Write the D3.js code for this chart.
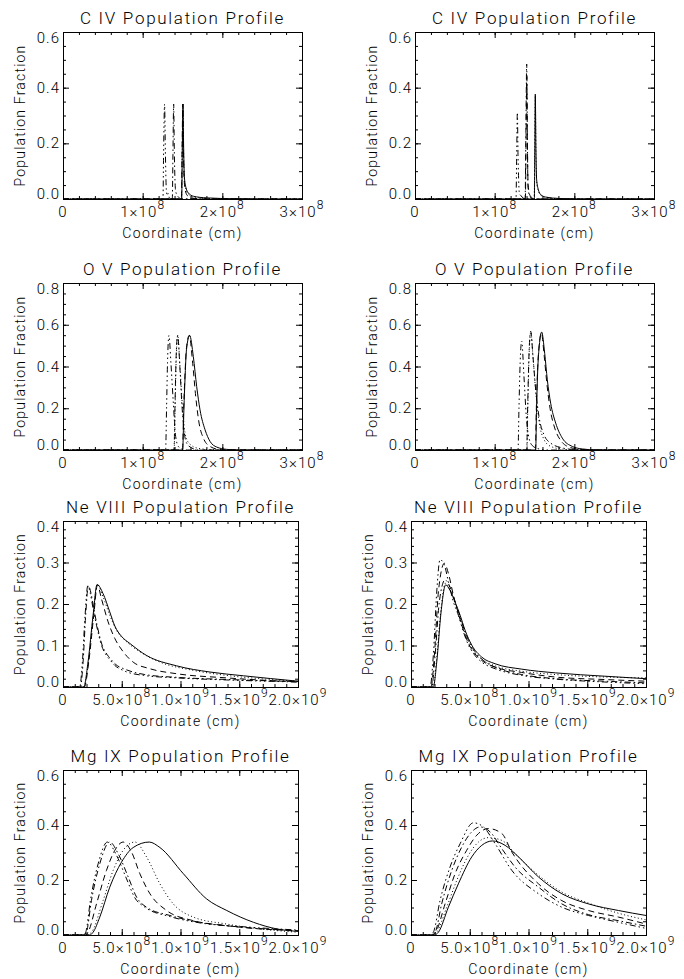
<!DOCTYPE html>
<html>
<head>
<meta charset="utf-8">
<script src="https://cdn.jsdelivr.net/npm/d3@7"></script>
<style>
  body { margin: 0; background: #fff; }
  svg text { font-family: "Roboto", "Liberation Sans", sans-serif; font-weight: 300; fill: #000; }
</style>
</head>
<body>
<svg id="chart"></svg>
<script>
// x values are in units of 1e8 cm, y is population fraction
// order of every curve list: solid, dotted, dashed, dash-dot, dash-dot-dot-dot

//// C IV, left
const civL_solid = [[0,0],[1.49,0],[1.497,0.16],[1.506,0.341],[1.514,0.19],[1.523,0.081],[1.544,0.04],[1.573,0.022],[1.636,0.01],[1.804,0.004],[2.14,0.001],[2.5,0],[3,0]];
const civL_dot = [[0,0],[1.488,0],[1.496,0.16],[1.505,0.341],[1.513,0.18],[1.523,0.075],[1.544,0.035],[1.573,0.018],[1.64,0.007],[1.8,0.002],[2.1,0],[3,0]];
const civL_dash = [[0,0],[1.486,0],[1.494,0.16],[1.504,0.341],[1.512,0.17],[1.523,0.06],[1.54,0.025],[1.57,0.01],[1.65,0.002],[1.8,0],[3,0]];
const civL_dashDot = [[0,0],[1.372,0],[1.38,0.16],[1.389,0.341],[1.398,0.16],[1.414,0.028],[1.448,0.007],[1.5,0],[3,0]];
const civL_dash3Dot = [[0,0],[1.255,0],[1.262,0.15],[1.275,0.341],[1.285,0.17],[1.297,0.034],[1.31,0.012],[1.32,0.02],[1.335,0.004],[1.36,0],[3,0]];

//// C IV, right
const civR_solid = [[0,0],[1.498,0],[1.504,0.18],[1.51,0.377],[1.518,0.18],[1.527,0.069],[1.548,0.034],[1.577,0.016],[1.64,0.007],[1.807,0.002],[2.1,0],[3,0]];
const civR_dot = [[0,0],[1.496,0],[1.503,0.17],[1.51,0.37],[1.518,0.16],[1.527,0.06],[1.548,0.03],[1.577,0.014],[1.64,0.006],[1.8,0.001],[2,0],[3,0]];
const civR_dash = [[0,0],[1.385,0],[1.394,0.2],[1.403,0.44],[1.411,0.2],[1.42,0.05],[1.445,0.012],[1.5,0],[3,0]];
const civR_dashDot = [[0,0],[1.382,0],[1.392,0.24],[1.402,0.485],[1.41,0.24],[1.418,0.046],[1.44,0.01],[1.48,0],[3,0]];
const civR_dash3Dot = [[0,0],[1.268,0],[1.276,0.15],[1.285,0.311],[1.293,0.16],[1.301,0.069],[1.31,0.02],[1.33,0.012],[1.36,0.003],[1.4,0],[3,0]];

//// O V, left
const ovL_solid = [[0,0],[1.502,0],[1.518,0.2],[1.531,0.336],[1.55,0.48],[1.59,0.549],[1.636,0.447],[1.678,0.304],[1.72,0.192],[1.783,0.097],[1.846,0.041],[1.93,0.014],[2.056,0.003],[2.2,0],[3,0]];
const ovL_dot = [[0,0],[1.395,0],[1.407,0.2],[1.42,0.42],[1.44,0.549],[1.47,0.39],[1.497,0.22],[1.525,0.1],[1.56,0.045],[1.62,0.02],[1.7,0.008],[1.85,0.002],[2,0],[3,0]];
const ovL_dash = [[0,0],[1.5,0],[1.515,0.2],[1.53,0.35],[1.55,0.49],[1.585,0.549],[1.628,0.415],[1.666,0.256],[1.708,0.129],[1.762,0.057],[1.846,0.017],[1.97,0.002],[2.1,0],[3,0]];
const ovL_dashDot = [[0,0],[1.393,0],[1.405,0.2],[1.418,0.42],[1.439,0.549],[1.469,0.383],[1.494,0.208],[1.523,0.081],[1.552,0.033],[1.615,0.01],[1.7,0],[3,0]];
const ovL_dash3Dot = [[0,0],[1.288,0],[1.3,0.2],[1.312,0.42],[1.33,0.549],[1.355,0.415],[1.385,0.224],[1.414,0.065],[1.448,0.017],[1.49,0.005],[1.56,0],[3,0]];

//// O V, right
const ovR_solid = [[0,0],[1.515,0],[1.525,0.18],[1.536,0.336],[1.56,0.5],[1.59,0.565],[1.628,0.463],[1.661,0.336],[1.703,0.224],[1.766,0.129],[1.849,0.057],[1.975,0.017],[2.1,0.005],[2.3,0],[3,0]];
const ovR_dot = [[0,0],[1.404,0],[1.417,0.22],[1.432,0.45],[1.454,0.565],[1.484,0.43],[1.52,0.26],[1.56,0.13],[1.62,0.05],[1.7,0.018],[1.85,0.004],[2,0],[3,0]];
const ovR_dash = [[0,0],[1.512,0],[1.522,0.18],[1.534,0.34],[1.558,0.5],[1.587,0.56],[1.622,0.45],[1.655,0.32],[1.695,0.2],[1.75,0.11],[1.83,0.045],[1.95,0.012],[2.1,0.002],[2.3,0],[3,0]];
const ovR_dashDot = [[0,0],[1.402,0],[1.415,0.22],[1.43,0.45],[1.452,0.569],[1.481,0.447],[1.515,0.288],[1.556,0.161],[1.619,0.073],[1.703,0.033],[1.849,0.01],[2,0.002],[2.2,0],[3,0]];
const ovR_dash3Dot = [[0,0],[1.293,0],[1.305,0.2],[1.32,0.42],[1.339,0.522],[1.368,0.351],[1.397,0.161],[1.431,0.057],[1.473,0.021],[1.556,0.005],[1.65,0],[3,0]];

//// Ne VIII, left
const neL_solid = [[0,0],[1.76,0],[2.13,0.06],[2.56,0.173],[2.9,0.247],[3.41,0.225],[3.98,0.181],[4.41,0.147],[4.98,0.122],[5.69,0.105],[7.11,0.076],[9.67,0.051],[12.52,0.036],[15.36,0.027],[20,0.014]];
const neL_dot = [[0,0],[1.79,0],[2.16,0.06],[2.59,0.173],[2.93,0.247],[3.41,0.217],[3.98,0.173],[4.55,0.137],[5.41,0.109],[6.54,0.085],[8.25,0.06],[11.1,0.04],[13.9,0.028],[16.8,0.02],[20,0.014]];
const neL_dash = [[0,0],[1.82,0],[2.19,0.06],[2.62,0.173],[2.93,0.246],[3.27,0.213],[3.84,0.157],[4.41,0.117],[5.12,0.085],[5.97,0.06],[7.4,0.044],[9.67,0.032],[13.9,0.022],[20,0.012]];
const neL_dashDot = [[0,0],[1.48,0],[1.71,0.06],[1.93,0.173],[2.16,0.244],[2.39,0.225],[2.62,0.189],[2.9,0.149],[3.33,0.101],[3.76,0.078],[4.04,0.068],[4.5,0.054],[5.26,0.043],[6.97,0.03],[9.81,0.023],[14.1,0.018],[20,0.013]];
const neL_dash3Dot = [[0,0],[1.42,0],[1.65,0.06],[1.88,0.173],[2.11,0.244],[2.33,0.225],[2.56,0.189],[2.85,0.149],[3.27,0.101],[3.7,0.076],[3.98,0.066],[4.41,0.052],[5.12,0.04],[6.83,0.028],[9.67,0.022],[13.9,0.017],[20,0.012]];

//// Ne VIII, right
const neR_solid = [[0,0],[1.9,0],[2.19,0.06],[2.56,0.181],[2.95,0.246],[3.32,0.233],[3.75,0.205],[4.18,0.173],[4.6,0.137],[5.17,0.101],[6.02,0.072],[7.16,0.056],[9.43,0.043],[12.3,0.034],[16.5,0.026],[20,0.02]];
const neR_dot = [[0,0],[1.88,0],[2.16,0.06],[2.53,0.181],[2.93,0.25],[3.3,0.235],[3.72,0.204],[4.15,0.169],[4.6,0.131],[5.17,0.094],[6.02,0.067],[7.16,0.051],[9.43,0.038],[12.3,0.03],[16.5,0.024],[20,0.022]];
const neR_dash = [[0,0],[1.7,0],[1.99,0.076],[2.33,0.229],[2.84,0.298],[3.18,0.274],[3.61,0.221],[4.03,0.177],[4.46,0.137],[4.89,0.105],[5.31,0.085],[6.02,0.064],[7.16,0.048],[9.43,0.035],[12.3,0.024],[16.5,0.018],[20,0.014]];
const neR_dashDot = [[0,0],[1.76,0],[2.05,0.076],[2.41,0.205],[2.9,0.258],[3.32,0.241],[3.75,0.205],[4.18,0.169],[4.6,0.133],[5.03,0.105],[5.45,0.085],[6.16,0.064],[7.3,0.046],[9.43,0.03],[12.3,0.02],[16.5,0.014],[20,0.01]];
const neR_dash3Dot = [[0,0],[1.62,0],[1.9,0.076],[2.19,0.229],[2.47,0.307],[2.84,0.294],[3.18,0.254],[3.61,0.205],[4.03,0.173],[4.46,0.133],[4.89,0.101],[5.31,0.081],[6.02,0.06],[7.16,0.044],[9.43,0.028],[12.3,0.019],[16.5,0.012],[20,0.008]];

//// Mg IX, left
const mgL_solid = [[0,0],[2.28,0],[2.56,0.01],[3.13,0.065],[3.98,0.174],[4.98,0.265],[5.97,0.318],[7.34,0.338],[8.25,0.318],[10.24,0.223],[12.23,0.131],[13.94,0.089],[16.22,0.046],[18.21,0.022],[20,0.013]];
const mgL_dot = [[0,0],[1.99,0],[2.42,0.01],[3.41,0.125],[4.27,0.235],[5.12,0.308],[6.12,0.338],[7.11,0.284],[8.25,0.186],[9.39,0.113],[11.1,0.065],[13.9,0.04],[16.8,0.022],[20,0.01]];
const mgL_dash = [[0,0],[1.93,0],[2.13,0.01],[2.85,0.113],[3.7,0.235],[4.41,0.308],[5.12,0.338],[5.83,0.302],[6.54,0.223],[7.4,0.15],[8.82,0.089],[11.1,0.052],[13.9,0.034],[16.8,0.022],[20,0.016]];
const mgL_dashDot = [[0,0],[1.76,0],[1.99,0.01],[2.42,0.125],[3.13,0.259],[3.98,0.338],[4.69,0.296],[5.55,0.211],[6.26,0.138],[7.11,0.101],[9.1,0.071],[11.66,0.046],[15.36,0.028],[20,0.016]];
const mgL_dash3Dot = [[0,0],[1.71,0],[1.93,0.01],[2.33,0.125],[2.99,0.259],[3.78,0.338],[4.55,0.29],[5.41,0.204],[6.12,0.135],[6.97,0.101],[9.1,0.067],[11.66,0.044],[15.36,0.03],[20,0.018]];

//// Mg IX, right
const mgR_solid = [[0,0],[1.99,0],[2.33,0.01],[3.18,0.101],[4.03,0.186],[5.17,0.284],[6.02,0.326],[6.93,0.342],[8.01,0.326],[9.15,0.284],[10.85,0.211],[12.84,0.15],[15.11,0.113],[17.67,0.089],[20,0.071]];
const mgR_dot = [[0,0],[1.9,0],[2.19,0.01],[3.04,0.101],[3.89,0.198],[4.89,0.29],[5.74,0.338],[6.59,0.354],[7.73,0.344],[8.86,0.296],[10.85,0.217],[12.84,0.156],[15.11,0.116],[17.67,0.079],[20,0.055]];
const mgR_dash = [[0,0],[1.82,0],[2.1,0.01],[2.9,0.113],[3.75,0.223],[4.74,0.308],[5.6,0.363],[6.59,0.387],[7.73,0.369],[8.58,0.302],[10.85,0.186],[12.84,0.125],[15.11,0.089],[17.67,0.065],[20,0.04]];
const mgR_dashDot = [[0,0],[1.7,0],[2.05,0.01],[2.61,0.113],[3.47,0.235],[4.32,0.32],[5.17,0.375],[5.88,0.393],[6.73,0.375],[7.73,0.314],[8.86,0.247],[10.85,0.174],[12.84,0.113],[15.11,0.074],[17.67,0.052],[20,0.032]];
const mgR_dash3Dot = [[0,0],[1.62,0],[1.9,0.01],[2.47,0.125],[3.32,0.247],[4.18,0.332],[5.31,0.408],[6.16,0.393],[7.16,0.332],[8.58,0.235],[10.85,0.15],[12.84,0.101],[15.11,0.071],[17.67,0.046],[20,0.024]];

//// ticks and labels
const titles = ["C IV Population Profile", "O V Population Profile", "Ne VIII Population Profile", "Mg IX Population Profile"];
const xTicksShort = [0, 1, 2, 3];
const xLabelsShort = [["0", ""], ["1×10", "8"], ["2×10", "8"], ["3×10", "8"]];
const xTicksLong = [0, 5, 10, 15, 20];
const xLabelsLong = [["0", ""], ["5.0×10", "8"], ["1.0×10", "9"], ["1.5×10", "9"], ["2.0×10", "9"]];
const yTicks06 = [0, 0.2, 0.4, 0.6];
const yTicks08 = [0, 0.2, 0.4, 0.6, 0.8];
const yTicks04 = [0, 0.1, 0.2, 0.3, 0.4];

const width = 684;
const height = 979;
const dashes = [null, "1,2.5", "6,4", "6,3,1.5,3", "6,3,1.5,3,1.5,3,1.5,3"];

const rowInfo = [
  {title: titles[0], xMax: 3, xTicks: xTicksShort, xLabels: xLabelsShort, xMinor: 0.2, yMax: 0.6, yTicks: yTicks06, yMinor: 0.05},
  {title: titles[1], xMax: 3, xTicks: xTicksShort, xLabels: xLabelsShort, xMinor: 0.2, yMax: 0.8, yTicks: yTicks08, yMinor: 0.05},
  {title: titles[2], xMax: 20, xTicks: xTicksLong, xLabels: xLabelsLong, xMinor: 1, yMax: 0.4, yTicks: yTicks04, yMinor: 0.02},
  {title: titles[3], xMax: 20, xTicks: xTicksLong, xLabels: xLabelsLong, xMinor: 1, yMax: 0.6, yTicks: yTicks06, yMinor: 0.05}
];

const panels = [
  {row: 0, curves: [civL_solid, civL_dot, civL_dash, civL_dashDot, civL_dash3Dot], frame: {l: 63, r: 302, t: 32, b: 199}},
  {row: 0, curves: [civR_solid, civR_dot, civR_dash, civR_dashDot, civR_dash3Dot], frame: {l: 415, r: 654, t: 32, b: 199}},
  {row: 1, curves: [ovL_solid, ovL_dot, ovL_dash, ovL_dashDot, ovL_dash3Dot], frame: {l: 63, r: 302, t: 283, b: 450}},
  {row: 1, curves: [ovR_solid, ovR_dot, ovR_dash, ovR_dashDot, ovR_dash3Dot], frame: {l: 415, r: 654, t: 283, b: 450}},
  {row: 2, curves: [neL_solid, neL_dot, neL_dash, neL_dashDot, neL_dash3Dot], frame: {l: 63, r: 298, t: 521, b: 687}},
  {row: 2, curves: [neR_solid, neR_dot, neR_dash, neR_dashDot, neR_dash3Dot], frame: {l: 411, r: 646, t: 521, b: 687}},
  {row: 3, curves: [mgL_solid, mgL_dot, mgL_dash, mgL_dashDot, mgL_dash3Dot], frame: {l: 63, r: 298, t: 770, b: 935}},
  {row: 3, curves: [mgR_solid, mgR_dot, mgR_dash, mgR_dashDot, mgR_dash3Dot], frame: {l: 411, r: 646, t: 770, b: 935}}
];

const svg = d3.select("#chart").attr("width", width).attr("height", height);
svg.append("rect").attr("width", width).attr("height", height).attr("fill", "#fff");
const defs = svg.append("defs");

const noDomain = (s) => s.select(".domain").remove();

const drawPanel = (p, i) => {
  const info = rowInfo[p.row];
  const f = p.frame;
  const x = d3.scaleLinear().domain([0, info.xMax]).range([f.l, f.r]);
  const y = d3.scaleLinear().domain([0, info.yMax]).range([f.b, f.t]);
  const g = svg.append("g");

  defs.append("clipPath").attr("id", "clip" + i)
    .append("rect").attr("x", f.l).attr("y", f.t - 1).attr("width", f.r - f.l).attr("height", f.b - f.t + 1);

  const line = d3.line().x(d => x(d[0])).y(d => y(d[1])).curve(d3.curveMonotoneX);
  p.curves.forEach((c, k) => {
    g.append("path").datum(c)
      .attr("d", line)
      .attr("fill", "none")
      .attr("stroke", "#000")
      .attr("stroke-width", 1)
      .attr("stroke-dasharray", dashes[k])
      .attr("clip-path", "url(#clip" + i + ")");
  });

  ////Ticks on all four sides, pointing in
  const xMinor = d3.range(0, info.xMax + 1e-9, info.xMinor);
  const yMinor = d3.range(0, info.yMax + 1e-9, info.yMinor);
  const sides = [
    [d3.axisBottom, x, "translate(0," + f.b + ")"],
    [d3.axisTop, x, "translate(0," + f.t + ")"],
    [d3.axisLeft, y, "translate(" + f.l + ",0)"],
    [d3.axisRight, y, "translate(" + f.r + ",0)"]
  ];
  sides.forEach(([axis, scale, tr], s) => {
    const major = s < 2 ? info.xTicks : info.yTicks;
    const minor = s < 2 ? xMinor : yMinor;
    g.append("g").attr("transform", tr)
      .call(axis(scale).tickValues(minor).tickSize(-3).tickSizeOuter(0).tickFormat(""))
      .call(noDomain);
    g.append("g").attr("transform", tr)
      .call(axis(scale).tickValues(major).tickSize(-6).tickSizeOuter(0).tickFormat(""))
      .call(noDomain);
  });
  g.selectAll(".tick line").attr("stroke", "#000");

  g.append("rect")
    .attr("x", f.l + 0.5).attr("y", f.t + 0.5)
    .attr("width", f.r - f.l).attr("height", f.b - f.t)
    .attr("fill", "none").attr("stroke", "#000").attr("stroke-width", 1);

  ////Tick labels
  info.xTicks.forEach((v, k) => {
    const t = g.append("text")
      .attr("x", x(v)).attr("y", f.b + 18)
      .attr("text-anchor", "middle")
      .style("font-size", "15px").style("letter-spacing", "1.1px");
    t.append("tspan").text(info.xLabels[k][0]);
    if (info.xLabels[k][1]) {
      t.append("tspan").attr("dy", -8).style("font-size", "12px").text(info.xLabels[k][1]);
    }
  });
  info.yTicks.forEach((v) => {
    const base = Math.max(f.t + 11, Math.min(f.b, y(v) + 5));
    g.append("text")
      .attr("x", f.l - 3).attr("y", base)
      .attr("text-anchor", "end")
      .style("font-size", "15px").style("letter-spacing", "1px")
      .text(v.toFixed(1));
  });

  ////Titles
  g.append("text")
    .attr("x", (f.l + f.r) / 2).attr("y", f.t - 8)
    .attr("text-anchor", "middle")
    .style("font-size", "17px").style("letter-spacing", "1.7px")
    .text(info.title);
  g.append("text")
    .attr("x", (f.l + f.r) / 2).attr("y", f.b + 39)
    .attr("text-anchor", "middle")
    .style("font-size", "14px").style("letter-spacing", "1.4px")
    .text("Coordinate (cm)");
  g.append("text")
    .attr("transform", "translate(" + (f.l - 38) + "," + ((f.t + f.b) / 2) + ") rotate(-90)")
    .attr("text-anchor", "middle")
    .style("font-size", "14px").style("letter-spacing", "1.2px")
    .text("Population Fraction");
};

panels.forEach(drawPanel);
</script>
</body>
</html>
